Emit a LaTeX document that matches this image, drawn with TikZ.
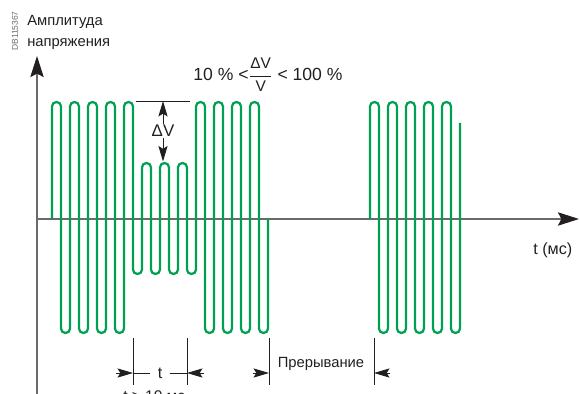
\documentclass[tikz,border=0pt]{standalone}
\usepackage{fontspec}
\setmainfont{Liberation Sans}
\usepackage{amsmath}
\usetikzlibrary{arrows.meta}
\definecolor{wavegreen}{HTML}{00A052}
\definecolor{axisgrey}{HTML}{6B6B6B}
\definecolor{inkdark}{HTML}{231F20}

\begin{document}
\begin{tikzpicture}[x=0.025cm, y=-0.025cm,
      wave/.style={draw=wavegreen, line width=1.6pt, rounded corners=0.11cm},
      axisline/.style={draw=axisgrey, line width=1.1pt,
                       -{Stealth[length=15pt, width=9.5pt, inset=2.5pt, color=inkdark]}},
      dimline/.style={draw=inkdark, line width=0.7pt},
      dimarr/.style={dimline, -{Stealth[length=11pt, width=6.5pt, inset=2pt]}},
      lbl/.style={text=inkdark, inner sep=0pt, font=\fontsize{10}{12}\selectfont}
    ]
    \useasboundingbox (0,0) rectangle (580,394);

    % Axes
    \draw[axisline] (37,400) -- (37,56);
    \draw[axisline] (37,219) -- (579,219);
    \node[lbl, rotate=90, text=axisgrey, font=\fontsize{6}{7}\selectfont] (code) at (15,31) {DB115367};
    \node[lbl, anchor=base west, font=\fontsize{10.5}{13}\selectfont] (amp)  at (27,26) {Амплитуда};
    \node[lbl, anchor=base west, font=\fontsize{10.5}{13}\selectfont] (napr) at (27,47) {напряжения};
    \node[lbl, anchor=base west, font=\fontsize{11.5}{13}\selectfont] (tms) at (533,255) {t (мс)};

    % Voltage with dip and interruption
    \draw[wave] (52,219)
      \foreach \i in {0,...,3} {
        -- ({52+18*\i},102) -- ({61+18*\i},102) -- ({61+18*\i},333) -- ({70+18*\i},333)}
      -- (124,102) -- (133,102) -- (133,274) -- (142,274)
      \foreach \i in {0,...,2} {
        -- ({142+18*\i},163) -- ({151+18*\i},163) -- ({151+18*\i},274) -- ({160+18*\i},274)}
      \foreach \i in {0,...,3} {
        -- ({196+18*\i},102) -- ({205+18*\i},102) -- ({205+18*\i},333) -- ({214+18*\i},333)}
      -- (268,219);
    \draw[wave] (370,219)
      \foreach \i in {0,...,4} {
        -- ({370+18*\i},102) -- ({379+18*\i},102) -- ({379+18*\i},333) -- ({388+18*\i},333)}
      -- (460,123);

    % Dip depth
    \coordinate (reflft) at (136,101);
    \coordinate (refrgt) at (190,101);
    \coordinate (reftop) at (163,101);
    \coordinate (smalltop) at (163,161.5);
    \draw[dimline] (reflft) -- (refrgt);
    \node[lbl, inner sep=1pt, font=\fontsize{12}{14}\selectfont] (dv) at (163,131) {ΔV};
    \draw[dimarr] (dv.north) -- (reftop);
    \draw[dimarr] (dv.south) -- (smalltop);
    \node[lbl, font=\fontsize{12.5}{14}\selectfont] (ratio) at (268,75)
      {10 \% <$\dfrac{\text{\fontsize{11}{12}\selectfont ΔV}}{\text{\fontsize{11}{12}\selectfont V}}$ < 100 \%};

    % Duration marks
    \foreach \n/\x in {ta/133, tb/187, pa/269, pb/374} {
      \coordinate (\n top) at (\x,338);
      \coordinate (\n) at (\x,373);
      \draw[dimline] (\n top) -- (\x,385);
    }
    \coordinate (tao) at (116,373);
    \coordinate (tbo) at (204,373);
    \coordinate (pao) at (253,373);
    \coordinate (pbo) at (390,373);
    \node[lbl, inner sep=5pt, font=\fontsize{11.5}{13}\selectfont] (tlab) at (160,373) {t};
    \draw[dimarr] (tao) -- (ta);
    \draw[dimarr] (tbo) -- (tb);
    \draw[dimline] (ta) -- (tlab.west);
    \draw[dimline] (tlab.east) -- (tb);
    \node[lbl, font=\fontsize{11}{13}\selectfont, anchor=base west] (tmin) at (123,401) {t > 10 мс};
    \node[lbl, anchor=base, font=\fontsize{10.5}{12}\selectfont] (gap) at (321,367) {Прерывание};
    \draw[dimarr] (pao) -- (pa);
    \draw[dimarr] (pbo) -- (pb);

  \end{tikzpicture}
\end{document}
